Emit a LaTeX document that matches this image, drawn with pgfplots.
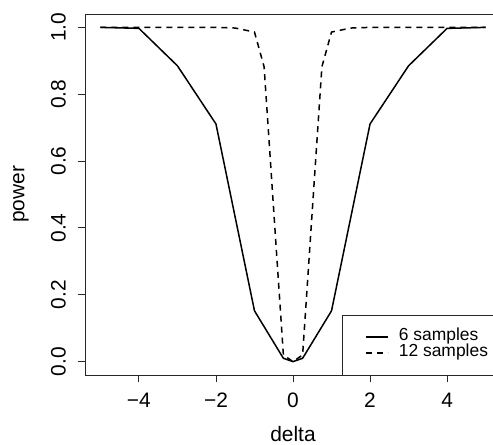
\documentclass[border=0pt]{standalone}
\usepackage{pgfplots}
\pgfplotsset{compat=1.18}
\usepackage{fontspec}
\setmainfont{Liberation Sans}
\begin{document}
\fontsize{21}{24}\selectfont
\begin{tikzpicture}
\begin{axis}[name=ax, scale only axis, width=416bp, height=361bp,
  xmin=-5.4, xmax=5.4, ymin=-0.04, ymax=1.04,
  axis line style={black!85, line width=0.9bp},
  tick style={black!85, line width=0.9bp},
  tick align=outside, major tick length=7bp,
  xtick pos=left, ytick pos=left,
  xtick={-4,-2,0,2,4}, xticklabels={−4,−2,0,2,4},
  ytick={0,0.2,0.4,0.6,0.8,1.0}, yticklabels={0.0,0.2,0.4,0.6,0.8,1.0},
  xticklabel style={anchor=north, inner sep=0pt, yshift=-11bp, font=\fontsize{21}{24}\selectfont},
  yticklabel style={rotate=90, anchor=south, inner sep=0pt, yshift=12bp, font=\fontsize{21}{24}\selectfont},
  every axis x label/.style={at={(axis description cs:0.5,0)}, anchor=base, inner sep=0pt, yshift=-66bp, font=\fontsize{21}{24}\selectfont},
  every axis y label/.style={at={(axis description cs:0,0.5)}, rotate=90, anchor=center, inner sep=0pt, yshift=64bp, font=\fontsize{21}{24}\selectfont},
  xlabel={delta}, ylabel={power},
  legend style={at={(axis description cs:0.6178,0)}, anchor=south west, draw=black!85, thin,
    inner xsep=6bp, inner ysep=14bp, row sep=0bp, column sep=10bp,
    font=\fontsize{17.5}{19}\selectfont,
    nodes={inner sep=0pt, text height=12bp, text depth=4bp}},
  legend cell align=left,
  legend image code/.code={\path (0bp,0bp); \draw[#1, line width=1.8bp] (17bp,0bp) -- (39bp,0bp);},
]
\addplot[black, line width=1.5bp] coordinates {
 (-5,1) (-4,0.997) (-3,0.885) (-2,0.711) (-1,0.152) (-0.25,0.01) (0,0.0)
 (0.25,0.01) (1,0.152) (2,0.711) (3,0.885) (4,0.997) (5,1)};
\addlegendentry{\makebox[100bp][l]{6 samples}}
\addplot[black, line width=1.5bp, dash pattern=on 6bp off 5bp] coordinates {
 (-5,1) (-4,1) (-3,1) (-2,1) (-1.5,0.998) (-1,0.986) (-0.75,0.882) (-0.25,0.02) (0,0.0)
 (0.25,0.02) (0.75,0.882) (1,0.986) (1.5,0.998) (2,1) (3,1) (4,1) (5,1)};
\addlegendentry{\makebox[100bp][l]{12 samples}}
\end{axis}
\pgfresetboundingbox
\path ([shift={(-85bp,-70bp)}]ax.south west) rectangle ([shift={(-8bp,14bp)}]ax.north east);
\end{tikzpicture}
\end{document}
